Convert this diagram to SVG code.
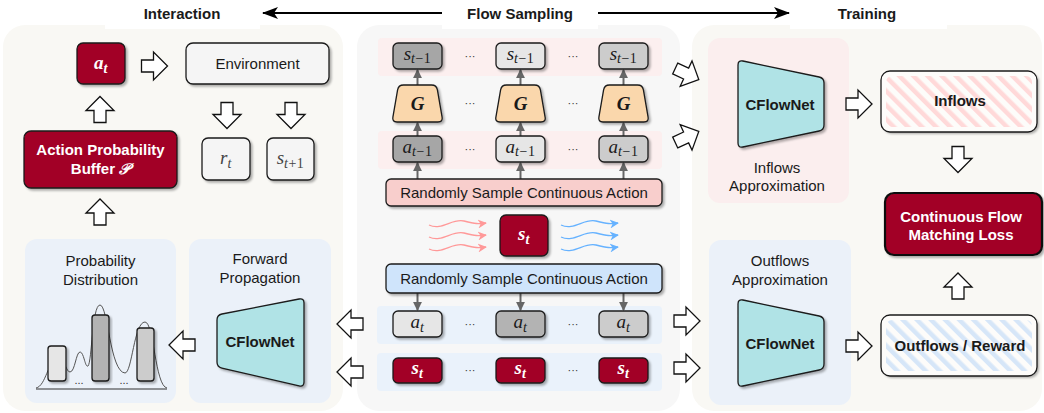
<svg xmlns="http://www.w3.org/2000/svg" width="1044" height="413" viewBox="0 0 1044 413">
<defs>
<style>
.t{font-family:"Liberation Sans",Arial,sans-serif;font-size:15px;fill:#1a1a1a;text-anchor:middle}
.b{font-weight:bold}
.w{fill:#fff}
.m{font-family:"Liberation Serif","Times New Roman",serif;font-style:italic;font-size:19px;text-anchor:middle;fill:#1a1a1a}
.mb{font-weight:bold;fill:#fff}
.sub{font-size:14px;letter-spacing:0.5px}
.up{font-style:normal}
.box{stroke:#1a1a1a;stroke-width:1.3}
.red{fill:#a20025}
.lg{fill:#f5f5f5}
.g1{fill:#e6e6e6}.g2{fill:#b3b3b3}.g3{fill:#cccccc}.g0{fill:#a6a6a6}
.ba{fill:#fff;stroke:#111;stroke-width:1.3;stroke-linejoin:miter}
.gc{stroke:#666;stroke-width:2;fill:none}
.dots{font-family:"Liberation Sans",sans-serif;font-size:11px;fill:#333;text-anchor:middle}
.sh{filter:url(#sh)}
.teal{fill:#b0e3e6}
.pinkstrip{fill:#fcefef}
.bluestrip{fill:#eaf2fb}
</style>
<filter id="sh" x="-20%" y="-20%" width="140%" height="140%">
<feDropShadow dx="2" dy="2" stdDeviation="1.2" flood-color="#000" flood-opacity="0.3"/>
</filter>
<marker id="bk" viewBox="0 0 16 12" refX="15" refY="6" markerWidth="16" markerHeight="12" markerUnits="userSpaceOnUse" orient="auto"><path d="M0,0 L16,6 L0,12 L4,6 Z" fill="#000"/></marker>
<marker id="ga" viewBox="0 0 10 10" refX="9" refY="5" markerWidth="9" markerHeight="9" markerUnits="userSpaceOnUse" orient="auto"><path d="M0,0 L10,5 L0,10 Z" fill="#666"/></marker>
<marker id="pa" viewBox="0 0 10 10" refX="9" refY="5" markerWidth="9" markerHeight="9" markerUnits="userSpaceOnUse" orient="auto"><path d="M0,0 L10,5 L0,10 L3,5 Z" fill="#ff9999"/></marker>
<marker id="bla" viewBox="0 0 10 10" refX="9" refY="5" markerWidth="9" markerHeight="9" markerUnits="userSpaceOnUse" orient="auto"><path d="M0,0 L10,5 L0,10 L3,5 Z" fill="#66b2ff"/></marker>
<path id="barrow" d="M-13,-6 H-1 V-14 L13,0 L-1,14 V6 H-13 Z"/>
<path id="gtrap" d="M-14,0 H14 Q19,0 19.9,4.9 L24.6,32.1 Q25.5,37 20.5,37 H-20.5 Q-25.5,37 -24.6,32.1 L-19.9,4.9 Q-19,0 -14,0 Z"/>
<path id="ctrapR" d="M742.9,61 L819.1,77 Q824,78 824,83 L824,125 Q824,130 819.1,131 L742.9,147 Q738,148 738,143 L738,65 Q738,60 742.9,61 Z"/>
<pattern id="hpink" patternUnits="userSpaceOnUse" width="10" height="10" patternTransform="rotate(-45)"><rect width="4.5" height="10" fill="#ffd9d9"/></pattern>
<pattern id="hblue" patternUnits="userSpaceOnUse" width="10" height="10" patternTransform="rotate(-45)"><rect width="4.5" height="10" fill="#d6e6f8"/></pattern>
</defs>

<!-- panels -->
<g id="panels">
<rect x="3" y="25" width="340" height="386" rx="22" fill="#f9f8f4"/>
<rect x="357" y="25" width="323" height="386" rx="22" fill="#f7f7f7"/>
<rect x="692" y="25" width="350" height="386" rx="22" fill="#f9f8f4"/>
<rect x="25" y="239" width="151" height="164" rx="12" fill="#ebf1f9"/>
<rect x="189" y="239" width="142" height="164" rx="12" fill="#ebf1f9"/>
<rect x="708" y="38" width="141" height="165" rx="12" fill="#fbeeee"/>
<rect x="709" y="240" width="142" height="165" rx="12" fill="#ebf1f9"/>
<rect x="378" y="38" width="284" height="38" rx="4" class="pinkstrip"/>
<rect x="378" y="131" width="284" height="38" rx="4" class="pinkstrip"/>
<rect x="377" y="306" width="285" height="38" rx="4" class="bluestrip"/>
<rect x="377" y="353" width="285" height="38" rx="4" class="bluestrip"/>
</g>

<!-- header -->
<g id="header">
<rect x="105" y="0" width="155" height="29" fill="#fff"/>
<rect x="442" y="0" width="156" height="29" fill="#fff"/>
<rect x="790" y="0" width="157" height="29" fill="#fff"/>
<text class="t b" x="182" y="18.5">Interaction</text>
<text class="t b" x="520" y="18.5">Flow Sampling</text>
<text class="t b" x="867" y="18.5">Training</text>
</g>

<!-- connectors -->
<g id="connectors">
<path d="M442,13 H263" stroke="#000" stroke-width="2" fill="none" marker-end="url(#bk)"/>
<path d="M598,13 H789" stroke="#000" stroke-width="2" fill="none" marker-end="url(#bk)"/>
<use href="#barrow" class="ba" transform="translate(154.5,66)"/>
<use href="#barrow" class="ba" transform="translate(227,115.5) rotate(90)"/>
<use href="#barrow" class="ba" transform="translate(291,115.5) rotate(90)"/>
<use href="#barrow" class="ba" transform="translate(100,109.5) rotate(-90)"/>
<use href="#barrow" class="ba" transform="translate(100,212) rotate(-90)"/>
<use href="#barrow" class="ba" transform="translate(182,345) rotate(180)"/>
<use href="#barrow" class="ba" transform="translate(350,324) rotate(180)"/>
<use href="#barrow" class="ba" transform="translate(350,372) rotate(180)"/>
<use href="#barrow" class="ba" transform="translate(687,74) rotate(25)"/>
<use href="#barrow" class="ba" transform="translate(687,137) rotate(-25)"/>
<use href="#barrow" class="ba" transform="translate(687,321)"/>
<use href="#barrow" class="ba" transform="translate(687,368)"/>
<use href="#barrow" class="ba" transform="translate(859,104)"/>
<use href="#barrow" class="ba" transform="translate(859,346)"/>
<use href="#barrow" class="ba" transform="translate(958,159.5) rotate(90)"/>
<use href="#barrow" class="ba" transform="translate(958,286) rotate(-90)"/>
<path class="gc" d="M417.5,85 V70" marker-end="url(#ga)"/>
<path class="gc" d="M520.5,85 V70" marker-end="url(#ga)"/>
<path class="gc" d="M623.5,85 V70" marker-end="url(#ga)"/>
<path class="gc" d="M417.5,136 V123" marker-end="url(#ga)"/>
<path class="gc" d="M520.5,136 V123" marker-end="url(#ga)"/>
<path class="gc" d="M623.5,136 V123" marker-end="url(#ga)"/>
<path class="gc" d="M417.5,179 V163" marker-end="url(#ga)"/>
<path class="gc" d="M520.5,179 V163" marker-end="url(#ga)"/>
<path class="gc" d="M623.5,179 V163" marker-end="url(#ga)"/>
<path class="gc" d="M417.5,293 V310" marker-end="url(#ga)"/>
<path class="gc" d="M520.5,293 V310" marker-end="url(#ga)"/>
<path class="gc" d="M623.5,293 V310" marker-end="url(#ga)"/>
<g fill="none" stroke="#ff9999" stroke-width="1.3" marker-end="url(#pa)">
<path d="M429,225 C442,231 452,218 464,221 S478,224 486,223"/>
<path d="M429,237 C442,243 452,230 464,233 S478,236 486,235"/>
<path d="M429,249 C442,255 452,242 464,245 S478,248 486,247"/>
</g>
<g fill="none" stroke="#66b2ff" stroke-width="1.3" marker-end="url(#bla)">
<path d="M561,225 C574,231 584,218 596,221 S610,224 618,223"/>
<path d="M561,237 C574,243 584,230 596,233 S610,236 618,235"/>
<path d="M561,249 C574,255 584,242 596,245 S610,248 618,247"/>
</g>
</g>

<!-- Interaction nodes -->
<g id="node-at">
<rect x="77" y="43" width="48" height="41" rx="6" class="box red sh"/>
<text class="m mb" x="101" y="69" font-size="21">a<tspan class="sub" dy="4">t</tspan></text>
</g>
<g id="node-environment">
<rect x="186" y="43" width="143" height="41" rx="7" class="box lg sh"/>
<text class="t" x="257.5" y="69">Environment</text>
</g>
<g id="node-rt">
<rect x="202" y="138" width="48" height="42" rx="6" class="box lg sh"/>
<text class="m" x="226" y="164" style="fill:#444">r<tspan class="sub" dy="4">t</tspan></text>
</g>
<g id="node-st1">
<rect x="267" y="138" width="47" height="42" rx="6" class="box lg sh"/>
<text class="m" x="290.5" y="164" style="fill:#444">s<tspan class="sub" dy="4">t<tspan class="up">+1</tspan></tspan></text>
</g>
<g id="node-buffer">
<rect x="24" y="131" width="153" height="57" rx="7" class="box red sh"/>
<text class="t b w" x="100.5" y="155">Action Probability</text>
<text class="t b w" x="100.5" y="174">Buffer  <tspan font-family="'DejaVu Serif','DejaVu Sans','Noto Sans',serif" font-style="italic">𝒫</tspan></text>
</g>
<g id="node-probdist">
<text class="t" x="100.5" y="266">Probability</text>
<text class="t" x="100.5" y="285">Distribution</text>
<path d="M36,388 C46,386 48,360 57,360 C66,360 66,372 70,372 C75,372 76,352 80,352 C84,352 85,368 88,366 C92,362 92,305 100,305 C108,305 110,372 125,373 C132,373 134,322 145,322 C154,322 155,386 167,388" fill="none" stroke="#555" stroke-width="1"/>
<line x1="36" y1="389" x2="167" y2="389" stroke="#333" stroke-width="1.2"/>
<rect x="48" y="346" width="18" height="35" rx="3" class="box g1 sh"/>
<rect x="92" y="315" width="17" height="66" rx="3" class="box g2 sh"/>
<rect x="137" y="328" width="17" height="53" rx="3" class="box g3 sh"/>
<text class="dots" x="79" y="384">...</text>
<text class="dots" x="124" y="384">...</text>
</g>
<g id="node-forward">
<text class="t" x="260" y="264">Forward</text>
<text class="t" x="260" y="283">Propagation</text>
<path d="M221.9,314 L299.1,299 Q304,298 304,303 L304,382 Q304,387 299.1,385.9 L221.9,368.1 Q217,367 217,362 L217,320 Q217,315 221.9,314 Z" class="box teal sh"/>
<text class="t b" x="260" y="347">CFlowNet</text>
</g>

<!-- Flow sampling nodes -->
<g id="node-s-prev">
<rect x="393" y="43" width="49" height="26" rx="5" class="box g0 sh"/>
<rect x="496" y="43" width="49" height="26" rx="5" class="box g1 sh"/>
<rect x="599" y="43" width="49" height="26" rx="5" class="box g3 sh"/>
<text class="m" x="417.5" y="60">s<tspan class="sub" dy="3">t<tspan class="up">−1</tspan></tspan></text>
<text class="m" x="520.5" y="60">s<tspan class="sub" dy="3">t<tspan class="up">−1</tspan></tspan></text>
<text class="m" x="623.5" y="60">s<tspan class="sub" dy="3">t<tspan class="up">−1</tspan></tspan></text>
<text class="dots" x="470" y="60">···</text>
<text class="dots" x="573" y="60">···</text>
</g>
<g id="node-G">
<use href="#gtrap" transform="translate(417.5,85)" class="box sh" fill="#fad7ac"/>
<use href="#gtrap" transform="translate(520.5,85)" class="box sh" fill="#fad7ac"/>
<use href="#gtrap" transform="translate(623.5,85)" class="box sh" fill="#fad7ac"/>
<text class="m" x="417.5" y="110" font-size="21" font-weight="bold">G</text>
<text class="m" x="520.5" y="110" font-size="21" font-weight="bold">G</text>
<text class="m" x="623.5" y="110" font-size="21" font-weight="bold">G</text>
<text class="dots" x="470" y="107">···</text>
<text class="dots" x="573" y="107">···</text>
</g>
<g id="node-a-prev">
<rect x="393" y="136" width="49" height="26" rx="5" class="box g0 sh"/>
<rect x="496" y="136" width="49" height="26" rx="5" class="box g1 sh"/>
<rect x="599" y="136" width="49" height="26" rx="5" class="box g3 sh"/>
<text class="m" x="417.5" y="153">a<tspan class="sub" dy="3">t<tspan class="up">−1</tspan></tspan></text>
<text class="m" x="520.5" y="153">a<tspan class="sub" dy="3">t<tspan class="up">−1</tspan></tspan></text>
<text class="m" x="623.5" y="153">a<tspan class="sub" dy="3">t<tspan class="up">−1</tspan></tspan></text>
<text class="dots" x="470" y="153">···</text>
<text class="dots" x="573" y="153">···</text>
</g>
<g id="node-sample-pink">
<rect x="386" y="179" width="276" height="27" rx="5" class="box sh" fill="#f8cecc"/>
<text class="t" x="524" y="198">Randomly Sample Continuous Action</text>
</g>
<g id="node-st-center">
<rect x="500" y="215" width="48" height="41" rx="6" class="box red sh"/>
<text class="m mb" x="524" y="240" font-size="21">s<tspan class="sub" dy="4">t</tspan></text>
</g>
<g id="node-sample-blue">
<rect x="386" y="264" width="276" height="29" rx="5" class="box sh" fill="#cfe4fb"/>
<text class="t" x="524" y="284">Randomly Sample Continuous Action</text>
</g>
<g id="node-at-row">
<rect x="393" y="311" width="49" height="26" rx="5" class="box g1 sh"/>
<rect x="496" y="311" width="49" height="26" rx="5" class="box g2 sh"/>
<rect x="599" y="311" width="49" height="26" rx="5" class="box g3 sh"/>
<text class="m" x="417.5" y="328">a<tspan class="sub" dy="4">t</tspan></text>
<text class="m" x="520.5" y="328">a<tspan class="sub" dy="4">t</tspan></text>
<text class="m" x="623.5" y="328">a<tspan class="sub" dy="4">t</tspan></text>
<text class="dots" x="470" y="328">···</text>
<text class="dots" x="573" y="328">···</text>
</g>
<g id="node-st-row">
<rect x="393" y="358" width="49" height="25" rx="5" class="box red sh"/>
<rect x="496" y="358" width="49" height="25" rx="5" class="box red sh"/>
<rect x="599" y="358" width="49" height="25" rx="5" class="box red sh"/>
<text class="m mb" x="417.5" y="374">s<tspan class="sub" dy="4">t</tspan></text>
<text class="m mb" x="520.5" y="374">s<tspan class="sub" dy="4">t</tspan></text>
<text class="m mb" x="623.5" y="374">s<tspan class="sub" dy="4">t</tspan></text>
<text class="dots" x="470" y="374">···</text>
<text class="dots" x="573" y="374">···</text>
</g>

<!-- Training nodes -->
<g id="node-inflows-approx">
<use href="#ctrapR" class="box teal sh"/>
<text class="t b" x="780" y="110">CFlowNet</text>
<text class="t" x="777" y="173">Inflows</text>
<text class="t" x="777" y="191">Approximation</text>
</g>
<g id="node-outflows-approx">
<text class="t" x="780" y="266">Outflows</text>
<text class="t" x="780" y="285">Approximation</text>
<use href="#ctrapR" transform="translate(0,239)" class="box teal sh"/>
<text class="t b" x="780" y="349">CFlowNet</text>
</g>
<g id="node-inflows">
<rect x="881" y="71" width="156" height="61" rx="9" fill="#fdfcfa" class="sh"/>
<rect x="886" y="76" width="146" height="51" rx="6" fill="url(#hpink)"/>
<rect x="881" y="71" width="156" height="61" rx="9" fill="none" class="box"/>
<text class="t b" x="960" y="106">Inflows</text>
</g>
<g id="node-loss">
<rect x="885" y="193" width="157" height="62" rx="9" class="red sh" stroke="#111" stroke-width="2.2"/>
<text class="t b w" x="961" y="221.5">Continuous Flow</text>
<text class="t b w" x="961" y="240">Matching Loss</text>
</g>
<g id="node-outflows">
<rect x="881" y="315" width="156" height="61" rx="9" fill="#fdfcfa" class="sh"/>
<rect x="886" y="320" width="146" height="51" rx="6" fill="url(#hblue)"/>
<rect x="881" y="315" width="156" height="61" rx="9" fill="none" class="box"/>
<text class="t b" x="960" y="351">Outflows / Reward</text>
</g>
</svg>
